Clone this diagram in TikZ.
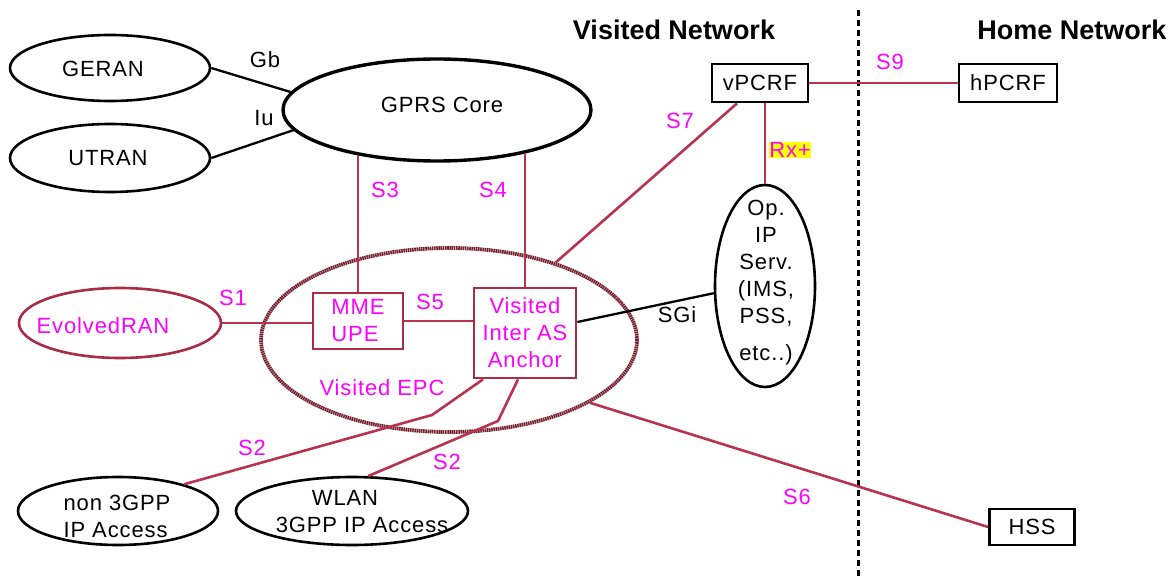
\documentclass[tikz,border=0pt]{standalone}
\usepackage{fontspec}
\setmainfont{Liberation Sans}[LetterSpace=4]
\newfontfamily\hdfam{Liberation Sans}
\usetikzlibrary{shapes.geometric}
\definecolor{lnred}{RGB}{184,52,78}
\definecolor{bxred}{RGB}{168,44,68}
\definecolor{epcred}{RGB}{120,34,48}
\definecolor{lblmag}{RGB}{255,0,255}
\definecolor{hiyel}{RGB}{255,255,0}
\newcommand\fsz{\fontsize{22}{27}\selectfont}
\newcommand\hdfs{\hdfam\fontsize{27}{32}\selectfont\bfseries}
\begin{document}
\begin{tikzpicture}[x=1pt,y=-1pt,
  ell/.style={ellipse, draw=black, line width=2.6pt, inner sep=0pt},
  txt/.style={font=\fsz, inner sep=0pt},
  lbl/.style={font=\fsz, text=lblmag, inner sep=0pt},
  bbox/.style={rectangle, draw=black, line width=2.8pt, fill=white, font=\fsz, inner sep=0pt},
  rbox/.style={rectangle, draw=bxred, line width=2.8pt, fill=white, font=\fsz, text=lblmag, inner sep=0pt},
  conn/.style={draw=lnred, line width=2.6pt},
  blk/.style={draw=black, line width=2.3pt},
  hd/.style={font=\hdfs, inner sep=0pt}]

\useasboundingbox (0,0) rectangle (1173,580);
\fill[white] (0,0) rectangle (1173,580);

% headings and border line
\node[hd] (hv) at (674,30) {Visited Network};
\node[hd] (hh) at (1072,30) {Home Network};
\coordinate (dtop) at (858,10);
\coordinate (dbot) at (858,580);
\draw[line width=3pt, dash pattern=on 6pt off 4pt] (dtop) -- (dbot);

% ellipses
\node[ell, minimum width=200pt, minimum height=66pt] (geran) at (110,68) {};
\node[txt] (geranT) at (103,69) {GERAN};
\node[ell, minimum width=200pt, minimum height=68pt] (utran) at (110,158) {};
\node[txt] (utranT) at (108,158) {UTRAN};
\node[ell, line width=3.4pt, minimum width=308pt, minimum height=102pt] (gprs) at (437,110) {};
\node[txt] (gprsT) at (442,105) {GPRS Core};
\node[ell, draw=bxred, minimum width=202pt, minimum height=70pt] (evran) at (120,323) {};
\node[lbl] (evranT) at (103,326) {EvolvedRAN};
\node[ellipse, draw=epcred, line width=3.8pt, dash pattern=on 1.6pt off 0.6pt,
      minimum width=376pt, minimum height=184pt, inner sep=0pt] (epc) at (449,340) {};
\node[lbl] (epcT) at (382,388) {Visited EPC};
\node[ell, minimum width=100pt, minimum height=202pt] (op) at (765,286) {};
\node[txt, align=center] (opT) at (766,283) {Op.\\IP\\Serv.\\(IMS,\\PSS,\\[10pt]etc..)};
\node[ell, minimum width=200pt, minimum height=68pt] (non3) at (118,511) {};
\node[txt, align=left] (non3T) at (117,516) {non 3GPP\\IP Access};
\node[ell, minimum width=232pt, minimum height=68pt] (wlan) at (352,511) {};
\node[txt, align=center] (wlanT) at (362,512) {WLAN\hspace*{34pt}\\3GPP IP Access};

% boxes
\node[bbox, minimum width=96pt, minimum height=38pt] (vpcrf) at (760,83) {vPCRF};
\node[bbox, minimum width=98pt, minimum height=38pt] (hpcrf) at (1008,83) {hPCRF};
\node[bbox, minimum width=85pt, minimum height=36pt] (hss) at (1032,527) {HSS};
\node[rbox, minimum width=90pt, minimum height=56pt, align=left] (mme) at (358,321) {MME\\UPE};
\node[rbox, minimum width=102pt, minimum height=90pt, align=center] (anchor) at (525,333) {Visited\\Inter AS\\Anchor};

% connectors
\draw[blk] (geran.east) -- (gprs.173);
\draw[blk] (utran.east) -- (gprs.188);
\draw[conn] (mme.north) -- (mme.north |- gprs.209);
\draw[conn] (anchor.north) -- (anchor.north |- gprs.-26);
\draw[conn] (evran.east) -- (evran.east -| mme.west);
\draw[conn] (mme.east) -- (mme.east -| anchor.west);
\draw[blk] ([yshift=11pt]anchor.east) -- (op.188);
\draw[conn] ([xshift=-23pt]vpcrf.south) -- (epc.36);
\draw[conn] ([xshift=5pt]vpcrf.south) -- (op.north);
\draw[conn] (vpcrf.east) -- (hpcrf.west);
\draw[conn] (epc.-24.5) -- (hss.west);
\coordinate (s2a) at (432,415);
\coordinate (s2b) at (498,421);
\draw[conn] ([xshift=-42pt]anchor.south) -- (s2a) -- (non3.22);
\draw[conn] ([xshift=-7pt]anchor.south) -- (s2b) -- (wlan.65);

% labels
\node[txt] (gbL) at (265,60) {Gb};
\node[txt] (iuL) at (264,118) {Iu};
\node[lbl] (s3L) at (385,190) {S3};
\node[lbl] (s4L) at (493,190) {S4};
\node[lbl] (s1L) at (233,298) {S1};
\node[lbl] (s5L) at (430,302) {S5};
\node[lbl] (s7L) at (680,121) {S7};
\node[lbl, fill=hiyel, inner sep=0.5pt] (rxL) at (790,150) {Rx+};
\node[lbl] (s9L) at (890,62) {S9};
\node[txt] (sgiL) at (677,315) {SGi};
\node[lbl] (s2aL) at (252,448) {S2};
\node[lbl] (s2bL) at (447,462) {S2};
\node[lbl] (s6L) at (797,497) {S6};
\end{tikzpicture}
\end{document}
